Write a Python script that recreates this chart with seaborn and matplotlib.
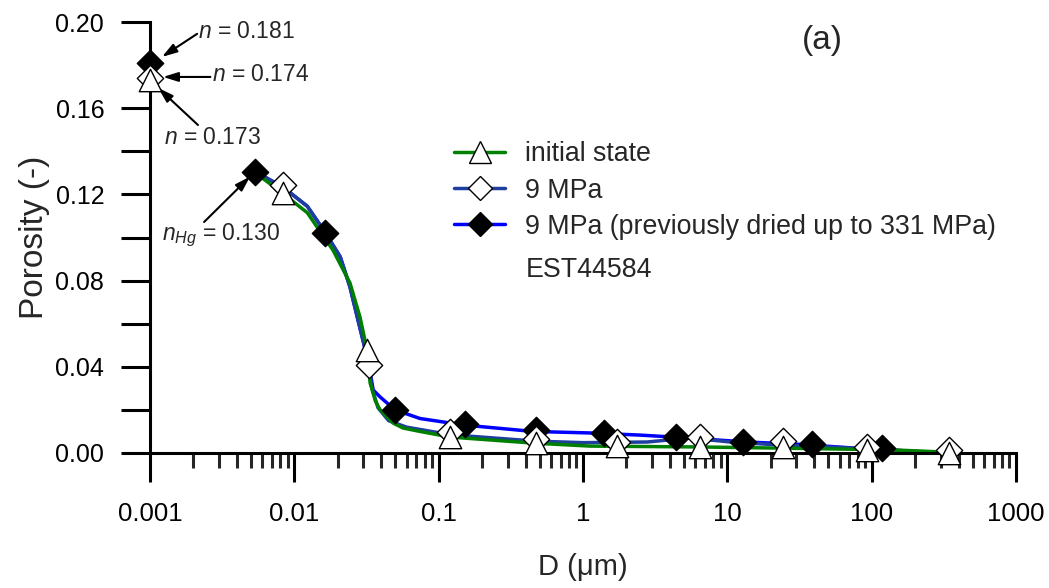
import numpy as np
import pandas as pd
import matplotlib
matplotlib.use('Agg')
import matplotlib.pyplot as plt
import matplotlib.ticker as mticker
from matplotlib.lines import Line2D
import seaborn as sns

# ---- data ----
# marker points, D in um, porosity (-)
init_d = [0.001, 0.0083, 0.032, 0.12, 0.47, 1.72, 6.5, 24.4, 93, 345]
init_n = [0.173, 0.1205, 0.0478, 0.0076, 0.0046, 0.0032, 0.0028, 0.0030, 0.0015, 0.0]

mpa9_d = [0.001, 0.0083, 0.0327, 0.12, 0.47, 1.72, 6.5, 24.4, 93, 345]
mpa9_n = [0.174, 0.1244, 0.0408, 0.0097, 0.0065, 0.0050, 0.0076, 0.0055, 0.0030, 0.0012]

dried_d = [0.001, 0.00535, 0.0163, 0.0499, 0.152, 0.47, 1.4, 4.4, 12.8, 38.9, 117]
dried_n = [0.181, 0.1304, 0.102, 0.020, 0.0133, 0.0107, 0.0093, 0.0074, 0.0052, 0.0042, 0.0023]

# continuous curves
init_curve_d = [0.0055, 0.0083, 0.0123, 0.0163, 0.0185, 0.0243, 0.0285, 0.0319, 0.0335,
                0.0365, 0.0393, 0.0483, 0.0566, 0.0743, 0.12, 0.451, 1.12, 6.5, 27,
                100, 157, 300, 345]
init_curve_n = [0.1295, 0.1205, 0.1115, 0.0995, 0.0942, 0.0789, 0.0631, 0.0478, 0.0325,
                0.024, 0.020, 0.0139, 0.0116, 0.0100, 0.0074, 0.0046, 0.0032, 0.0028, 0.0022,
                0.0016, 0.0013, 0.0005, 0.0]

mpa9_curve_d = [0.0055, 0.0083, 0.0123, 0.0163, 0.0208, 0.0243, 0.0280, 0.0310, 0.0327,
                0.0345, 0.038, 0.045, 0.06, 0.12, 0.47, 1.0, 2.78, 5.52, 10.5, 23.2,
                50, 100, 200, 345]
mpa9_curve_n = [0.1302, 0.1235, 0.1145, 0.1025, 0.091, 0.077, 0.060, 0.048, 0.041,
                0.030, 0.021, 0.015, 0.012, 0.0085, 0.0055, 0.0048, 0.0051, 0.0070, 0.0051, 0.0037,
                0.0028, 0.0018, 0.0008, 0.0]

dried_curve_d = [0.00535, 0.0083, 0.0123, 0.0163, 0.0208, 0.0243, 0.0280, 0.0310, 0.0330,
                 0.0352, 0.0393, 0.0439, 0.0499, 0.0743, 0.148, 0.451, 1.12, 2.5, 4.71,
                 13.7, 31.9, 79, 150, 227, 300]
dried_curve_n = [0.1304, 0.1235, 0.1145, 0.1025, 0.091, 0.077, 0.060, 0.048, 0.040,
                 0.0292, 0.026, 0.0232, 0.020, 0.0160, 0.0130, 0.0100, 0.0093, 0.0083, 0.0072,
                 0.0051, 0.0040, 0.0022, 0.0012, 0.0003, 0.0]

x_ticks = [0.001, 0.01, 0.1, 1, 10, 100, 1000]
x_tick_labels = ['0.001', '0.01', '0.1', '1', '10', '100', '1000']
y_ticks = [0.00, 0.04, 0.08, 0.12, 0.16, 0.20]

green = '#008000'
navy = '#1f3f9f'
blue = '#0000ff'

sns.set_style('ticks')
plt.rcParams['font.family'] = ['Liberation Sans', 'DejaVu Sans']
plt.rcParams['mathtext.fontset'] = 'custom'
plt.rcParams['mathtext.rm'] = 'Liberation Sans'
plt.rcParams['mathtext.it'] = 'Liberation Sans:italic'

fig = plt.figure(figsize=(10.49, 5.88), dpi=100)
ax = fig.add_axes([150 / 1049, 1 - 453 / 588, 866 / 1049, 431 / 588])

lw = 2.5
sns.lineplot(x=dried_curve_d, y=dried_curve_n, color=blue, lw=lw, sort=False,
             estimator=None, ax=ax, zorder=2)
sns.lineplot(x=mpa9_curve_d, y=mpa9_curve_n, color=navy, lw=lw, sort=False,
             estimator=None, ax=ax, zorder=2.1)
sns.lineplot(x=init_curve_d, y=init_curve_n, color=green, lw=lw, sort=False,
             estimator=None, ax=ax, zorder=2.2)

sns.scatterplot(x=dried_d, y=dried_n, marker='D', s=180, color='black',
                edgecolor='black', linewidth=1, ax=ax, zorder=3)
sns.scatterplot(x=mpa9_d, y=mpa9_n, marker='D', s=180, color='white',
                edgecolor='black', linewidth=1, ax=ax, zorder=3.1)
sns.scatterplot(x=init_d, y=init_n, marker='^', s=260, color='white',
                edgecolor='black', linewidth=1, ax=ax, zorder=3.2)
for c in ax.collections:
    c.set_clip_on(False)

ax.set_xscale('log')
ax.set_xlim(0.001, 1000)
ax.set_ylim(0, 0.2)
ax.set_xticks(x_ticks)
ax.set_xticklabels(x_tick_labels)
ax.xaxis.set_minor_locator(mticker.LogLocator(base=10, subs=np.arange(2, 10), numticks=20))
ax.xaxis.set_minor_formatter(mticker.NullFormatter())
ax.set_yticks(y_ticks)
ax.set_yticklabels(['%.2f' % v for v in y_ticks])
ax.yaxis.set_minor_locator(mticker.FixedLocator([0.02, 0.06, 0.10, 0.14]))

for side in ['top', 'right']:
    ax.spines[side].set_visible(False)
for side in ['left', 'bottom']:
    ax.spines[side].set_linewidth(2.2)
    ax.spines[side].set_color('black')

ax.tick_params(axis='x', which='major', direction='out', length=21, width=2.2,
               pad=14, labelsize=18.5, colors='black')
ax.tick_params(axis='x', which='minor', direction='out', length=11, width=2.2)
ax.tick_params(axis='y', which='both', direction='out', length=21, width=2.2,
               pad=12, labelsize=18, colors='black')

ax.set_xlabel('D (\u03bcm)', fontsize=21, labelpad=20)
ax.set_ylabel('Porosity (-)', fontsize=24, labelpad=4)
ax.grid(False)

# annotations
arrow = dict(arrowstyle='-|>,head_length=0.9,head_width=0.28', color='black',
             lw=1.5, shrinkA=0, shrinkB=0)
ann_fs = 16.5
ax.annotate('', xy=(0.00121, 0.1838), xytext=(0.00212, 0.1945), arrowprops=arrow)
ax.text(0.00216, 0.1955, '$n$ = 0.181', fontsize=ann_fs, va='center', ha='left')
ax.annotate('', xy=(0.00123, 0.1745), xytext=(0.00262, 0.1745), arrowprops=arrow)
ax.text(0.00270, 0.1755, '$n$ = 0.174', fontsize=ann_fs, va='center', ha='left')
ax.annotate('', xy=(0.00114, 0.1694), xytext=(0.00215, 0.1522), arrowprops=arrow)
ax.text(0.00126, 0.1462, '$n$ = 0.173', fontsize=ann_fs, va='center', ha='left')
ax.annotate('', xy=(0.00494, 0.1283), xytext=(0.00237, 0.1072), arrowprops=arrow)
ax.text(0.00122, 0.1010, '$n_{Hg}$ = 0.130', fontsize=ann_fs, va='center', ha='left')

ax.text(822 / 1049, 1 - 40 / 588, '(a)', transform=fig.transFigure, fontsize=24,
        ha='center', va='center')

handles = [
    Line2D([], [], color=green, lw=lw, marker='^', markersize=16,
           markerfacecolor='white', markeredgecolor='black', markeredgewidth=1),
    Line2D([], [], color=navy, lw=lw, marker='D', markersize=12,
           markerfacecolor='white', markeredgecolor='black', markeredgewidth=1),
    Line2D([], [], color=blue, lw=lw, marker='D', markersize=12,
           markerfacecolor='black', markeredgecolor='black', markeredgewidth=1),
]
labels = ['initial state', '9 MPa', '9 MPa (previously dried up to 331 MPa)']
leg = ax.legend(handles, labels, loc='upper left', bbox_to_anchor=(441 / 1049, 1 - 128 / 588),
                bbox_transform=fig.transFigure, frameon=False, fontsize=19.3,
                handlelength=1.9, handletextpad=0.75, labelspacing=0.38, borderpad=0)
fig.text(526 / 1049, 1 - 270 / 588, 'EST44584', fontsize=19.3, ha='left', va='center')

fig.savefig('out.png', dpi=100)
